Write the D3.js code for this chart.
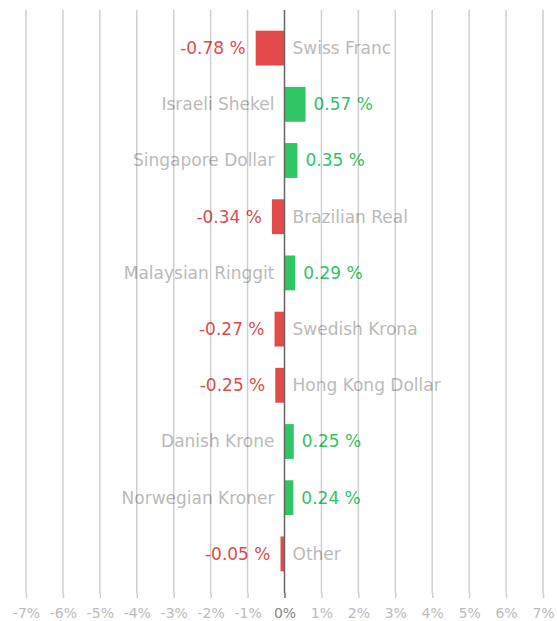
<!DOCTYPE html>
<html>
<head>
<meta charset="utf-8">
<script src="https://cdn.jsdelivr.net/npm/d3@7"></script>
<style>
  html, body { margin: 0; padding: 0; background: #fff; }
  svg { display: block; font-family: "DejaVu Sans", sans-serif; }
</style>
</head>
<body>
<svg id="chart" width="557" height="621"></svg>
<script>
// Currency performance, percent change
const currencies = ["Swiss Franc", "Israeli Shekel", "Singapore Dollar", "Brazilian Real",
  "Malaysian Ringgit", "Swedish Krona", "Hong Kong Dollar", "Danish Krone",
  "Norwegian Kroner", "Other"];
const changes = [-0.78, 0.57, 0.35, -0.34, 0.29, -0.27, -0.25, 0.25, 0.24, -0.05];
const tickValues = [-7, -6, -5, -4, -3, -2, -1, 0, 1, 2, 3, 4, 5, 6, 7];

const svg = d3.select("#chart");

const x = d3.scaleLinear().domain([-7, 7]).range([26, 543]);
const y = d3.scaleBand().domain(currencies).range([20, 582]).paddingInner(0.38).paddingOuter(0.19);

const gridTop = 10, gridBottom = 593;
const red = "#e34b4b", green = "#2fc663";

// bars
svg.append("g").selectAll("rect").data(currencies).join("rect")
  .attr("x", (d, i) => changes[i] < 0 ? Math.min(x(changes[i]), x(0) - 4) : x(0))
  .attr("y", d => y(d))
  .attr("width", (d, i) => Math.max(4, Math.abs(x(changes[i]) - x(0))))
  .attr("height", y.bandwidth())
  .attr("fill", (d, i) => changes[i] < 0 ? red : green);

// category labels on the opposite side of the axis
svg.append("g").selectAll("text").data(currencies).join("text")
  .attr("x", (d, i) => changes[i] < 0 ? x(0) + 8 : x(0) - 10)
  .attr("y", d => y(d) + y.bandwidth() / 2)
  .attr("dy", "0.35em")
  .attr("text-anchor", (d, i) => changes[i] < 0 ? "start" : "end")
  .attr("fill", "#bbb")
  .style("font-size", "17px")
  .text(d => d);

// value labels beyond the end of each bar
svg.append("g").selectAll("text").data(currencies).join("text")
  .attr("x", (d, i) => {
    const end = changes[i] < 0 ? Math.min(x(changes[i]), x(0) - 4) : Math.max(x(changes[i]), x(0) + 4);
    return changes[i] < 0 ? end - 10 : end + 8;
  })
  .attr("y", d => y(d) + y.bandwidth() / 2)
  .attr("dy", "0.35em")
  .attr("text-anchor", (d, i) => changes[i] < 0 ? "end" : "start")
  .attr("fill", (d, i) => changes[i] < 0 ? red : green)
  .style("font-size", "17px")
  .text((d, i) => changes[i].toFixed(2) + " %");

// vertical grid lines, translucent over the labels
svg.append("g").selectAll("line").data(tickValues).join("line")
  .attr("x1", d => x(d)).attr("x2", d => x(d))
  .attr("y1", gridTop).attr("y2", gridBottom)
  .attr("stroke", d => d === 0 ? "#666" : "#000")
  .attr("stroke-opacity", d => d === 0 ? 1 : 0.19)
  .attr("stroke-width", 1.5);

// bottom axis
const axis = svg.append("g").attr("transform", `translate(0,${gridBottom})`)
  .call(d3.axisBottom(x).tickValues(tickValues).tickFormat(d => d + "%").tickSize(5).tickPadding(10));
axis.select(".domain").remove();
axis.selectAll(".tick line").attr("stroke", d => d === 0 ? "#666" : "#d0d0d0").attr("stroke-width", 1.5);
axis.selectAll(".tick text")
  .attr("fill", d => d === 0 ? "#888" : "#bbb")
  .style("font-size", "14px")
  .style("font-family", "'DejaVu Sans', sans-serif");
</script>
</body>
</html>
